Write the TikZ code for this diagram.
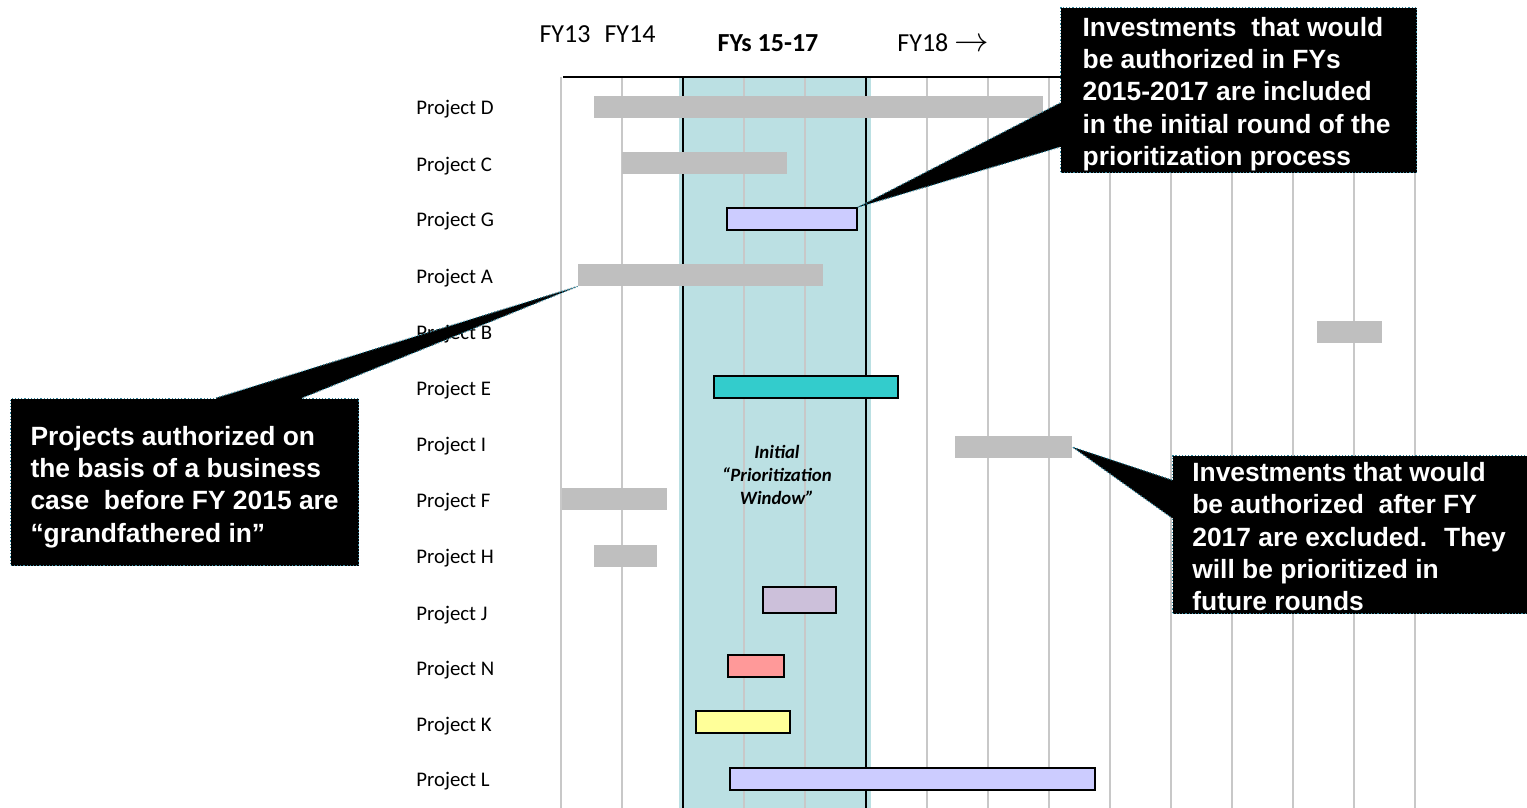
\documentclass[tikz,border=0pt]{standalone}
\usepackage{fontspec}
\setmainfont{Carlito}
\newfontfamily\calloutfont{Liberation Sans}
\usetikzlibrary{calc}

\definecolor{barGray}{HTML}{BFBFBF}
\definecolor{gridGray}{HTML}{C8C8C8}
\definecolor{windowTeal}{HTML}{BBE0E3}
\definecolor{lilac}{HTML}{CCCCFF}
\definecolor{aqua}{HTML}{33CCCC}
\definecolor{mauve}{HTML}{CCC0DA}
\definecolor{salmon}{HTML}{FF9999}
\definecolor{paleYellow}{HTML}{FFFF99}
\definecolor{calloutEdge}{HTML}{31859C}

\begin{document}
\begin{tikzpicture}[x=0.5pt, y=-0.5pt,
  every node/.style={inner sep=0pt},
  rowlabel/.style={anchor=base west, font=\fontsize{10.4}{12}\selectfont},
  fylabel/.style={font=\fontsize{13}{15}\selectfont},
  bar/.style={minimum height=11pt, fill=barGray},
  keybar/.style={bar, draw=black, line width=0.75pt},
  calloutbox/.style={fill=black, draw=calloutEdge, densely dotted, line width=0.6pt, anchor=north west},
  callouttext/.style={text=white, align=left, font=\calloutfont\bfseries\fontsize{13.2}{16.1}\selectfont},
  pointerEdge/.style={draw=calloutEdge, densely dotted, line width=0.6pt}]
  \useasboundingbox (0,0) rectangle (1527,808);

  % prioritization window and year grid
  \fill[windowTeal] (679,77) rectangle (871,808);
  \foreach \x in {561,622,...,1415}
    \draw[gridGray, line width=0.75pt] (\x,77) -- (\x,808);
  \draw[line width=1.25pt] (683,77) -- (683,808);
  \draw[line width=1.25pt] (866,77) -- (866,808);
  \draw[line width=0.75pt] (563,77) -- (1416,77);

  % year headings
  \node[fylabel] (fy13) at (565,34) {FY13};
  \node[fylabel] (fy14) at (630,34) {FY14};
  \node[fylabel, font=\fontsize{13}{15}\selectfont\bfseries] (fywin) at (768,43) {FYs 15-17};
  \node[fylabel, anchor=west] (fy18) at (897,43) {FY18 {\fontsize{18.5}{18}\selectfont$\rightarrow$}};

  % project rows
  \foreach \n/\y in {D/108,C/164,G/220,A/276,B/332,E/388,I/444,F/500,H/556,J/613,N/668,K/724,L/779}
    \node[rowlabel] (lab\n) at (416,\y+7) {Project \n};

  \foreach \n/\y/\a/\b in {D/107/594/1043, C/163/622/787, A/275/578/823, B/332/1317/1382,
                           I/447/955/1072, F/499/562/667, H/556/594/657}
    \node[bar, minimum width={(\b-\a)*0.5pt}] (bar\n) at ({(\a+\b)/2},\y) {};

  \foreach \n/\y/\a/\b/\c/\h in {G/219/727/857/lilac/11, E/387/714/898/aqua/11,
                                 J/600/763/836/mauve/13, N/666/728/784/salmon/11,
                                 K/722/696/790/paleYellow/11, L/779/730/1095/lilac/11}
    \node[keybar, fill=\c, minimum width={(\b-\a)*0.5pt}, minimum height=\h pt] (bar\n) at ({(\a+\b)/2},\y) {};

  \node[align=center, font=\fontsize{9.4}{11.3}\selectfont\bfseries\itshape] (winlab) at (777,475)
    {Initial\\“Prioritization\\Window”};

  % callouts
  \node[calloutbox, minimum width=178pt, minimum height=82.5pt] (incall) at (1060,7) {};
  \node[calloutbox, minimum width=174pt, minimum height=83.5pt] (gfcall) at (10,398) {};
  \node[calloutbox, minimum width=177.5pt, minimum height=79pt] (excall) at (1172,455) {};

  \coordinate (inB1) at ($(incall.north west)+(0,96)$);
  \coordinate (inB2) at ($(incall.north west)+(0,140)$);
  \fill (inB1) -- (barG.north east) -- (inB2) -- ++(3,0) -- ($(inB1)+(3,0)$) -- cycle;
  \draw[pointerEdge] (inB1) -- (barG.north east) -- (inB2);

  \coordinate (gfB1) at ($(gfcall.north west)+(206,0)$);
  \coordinate (gfB2) at ($(gfcall.north west)+(292,0)$);
  \fill (gfB1) -- (barA.south west) -- (gfB2) -- ++(0,3) -- ($(gfB1)+(0,3)$) -- cycle;
  \draw[pointerEdge] (gfB1) -- (barA.south west) -- (gfB2);

  \coordinate (exB1) at ($(excall.north west)+(0,25)$);
  \coordinate (exB2) at ($(excall.north west)+(0,63)$);
  \fill (exB1) -- (barI.east) -- (exB2) -- ++(3,0) -- ($(exB1)+(3,0)$) -- cycle;
  \draw[pointerEdge] (exB1) -- (barI.east) -- (exB2);

  \node[callouttext] (intext) at ($(incall.center)+(-2,4)$)
    {Investments~ that would\\be authorized in FYs\\2015-2017 are included\\in the initial round of the\\prioritization process};
  \node[callouttext] (gftext) at ($(gfcall.center)+(0,5)$)
    {Projects authorized on\\the basis of a business\\case~ before FY 2015 are\\“grandfathered in”};
  \node[callouttext] (extext) at ($(excall.center)+(-1,2)$)
    {Investments that would\\be authorized~ after FY\\2017 are excluded.~ They\\will be prioritized in\\future rounds};
\end{tikzpicture}
\end{document}
